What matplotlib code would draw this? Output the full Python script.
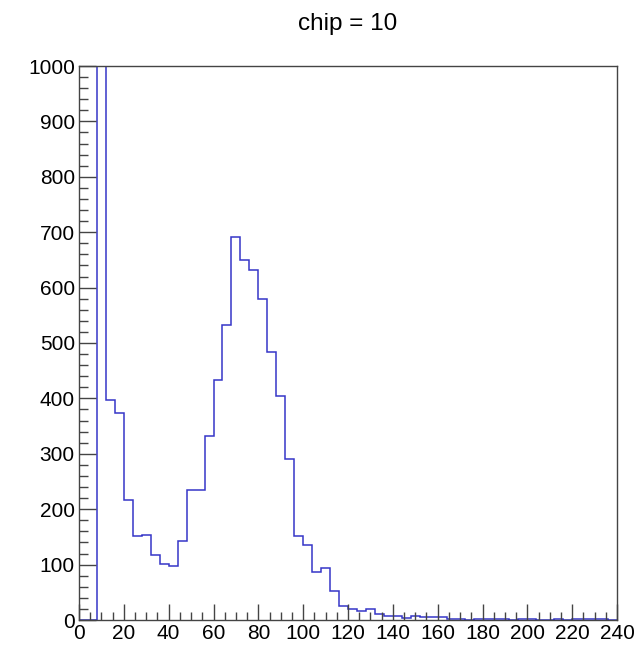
import numpy as np
import matplotlib
matplotlib.use('Agg')
import matplotlib.pyplot as plt
from matplotlib.ticker import MultipleLocator

# histogram contents, 4-unit bins from 0 to 240
bin_edges = np.arange(0, 244, 4)
counts = [0, 0, 2400, 397, 374, 217, 151, 153, 118, 101,
          98, 142, 235, 235, 332, 433, 532, 692, 649, 632,
          579, 483, 404, 290, 151, 136, 86, 94, 53, 26,
          20, 16, 20, 11, 8, 8, 4, 7, 6, 6,
          6, 1, 2, 0, 1, 1, 1, 1, 0, 1,
          1, 0, 0, 1, 0, 1, 1, 1, 1, 0]
title = 'chip = 10'

plt.rcParams['font.family'] = ['Liberation Sans', 'DejaVu Sans']

fig = plt.figure(figsize=(6.36, 6.45), dpi=100)
ax = fig.add_axes([79/636, 25/645, 538/636, 554/645])

ax.stairs(counts, bin_edges, color='#3535c8', lw=1.1, baseline=0, zorder=1)

ax.set_xlim(0, 240)
ax.set_ylim(0, 1000)
ax.xaxis.set_major_locator(MultipleLocator(20))
ax.xaxis.set_minor_locator(MultipleLocator(5))
ax.yaxis.set_major_locator(MultipleLocator(100))
ax.yaxis.set_minor_locator(MultipleLocator(20))

frame = '#444444'
for s in ax.spines.values():
    s.set_color(frame)
    s.set_linewidth(1.0)

ax.tick_params(axis='both', which='both', direction='in', color=frame,
               width=1.0, labelsize=15, top=False, right=False)
ax.tick_params(axis='x', which='major', length=11.3, pad=3)
ax.tick_params(axis='x', which='minor', length=5.5)
ax.tick_params(axis='y', which='major', length=12.2, pad=3)
ax.tick_params(axis='y', which='minor', length=6.5)

fig.text(348/636, 1 - 24/645, title, ha='center', va='center', fontsize=17.5)

fig.savefig('out.png', dpi=100)
